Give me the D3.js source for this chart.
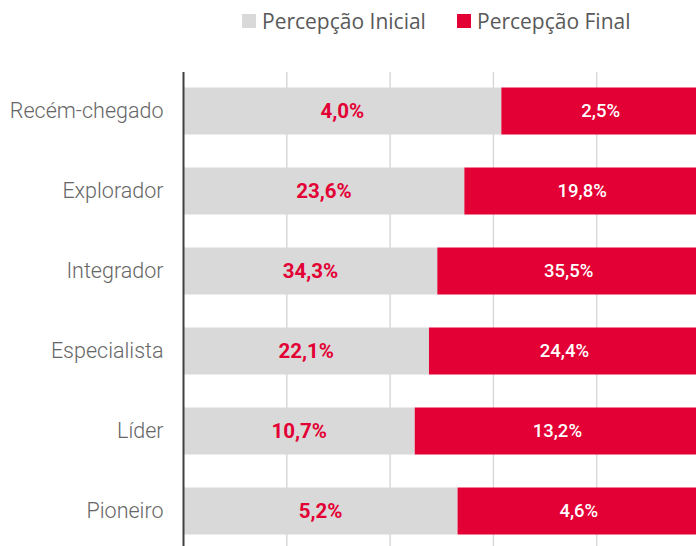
<!DOCTYPE html>
<html><head><meta charset="utf-8">
<script src="https://cdn.jsdelivr.net/npm/d3@7"></script>
<style>body{margin:0;background:#fff;overflow:hidden}svg{display:block}</style>
</head><body>
<script>
const categories = ["Recém-chegado","Explorador","Integrador","Especialista","Líder","Pioneiro"];
const inicial = [4.0, 23.6, 34.3, 22.1, 10.7, 5.2];
const final = [2.5, 19.8, 35.5, 24.4, 13.2, 4.6];
const seriesNames = ["Percepção Inicial","Percepção Final"];
const ticks = [0, 0.2, 0.4, 0.6, 0.8, 1.0];
const colors = ["#d9d9d9","#e30034"];

const W = 696, H = 546;
const svg = d3.select("body").append("svg").attr("width", W).attr("height", H);
const x = d3.scaleLinear().domain([0,1]).range([183.5, 700]);
const y = d3.scaleBand().domain(categories).range([71, 551]).paddingInner(0.4125).paddingOuter(0.20625);
const fmt = v => v.toFixed(1).replace(".", ",") + "%";

const rows = categories.map((c,i)=>{const t = inicial[i]+final[i]; return {c, a: inicial[i], b: final[i], fa: inicial[i]/t};});

// gridlines
svg.append("g").selectAll("line").data(ticks.slice(1)).join("line")
  .attr("x1", d=>x(d)).attr("x2", d=>x(d)).attr("y1", 72).attr("y2", H)
  .attr("stroke", "#d9d9d9").attr("stroke-width", 1.5);

const g = svg.append("g");
g.selectAll("rect.a").data(rows).join("rect").attr("class","a")
  .attr("x", x(0)).attr("y", d=>y(d.c)).attr("width", d=>x(d.fa)-x(0)).attr("height", y.bandwidth()).attr("fill", colors[0]);
g.selectAll("rect.b").data(rows).join("rect").attr("class","b")
  .attr("x", d=>x(d.fa)).attr("y", d=>y(d.c)).attr("width", d=>x(1)-x(d.fa)).attr("height", y.bandwidth()).attr("fill", colors[1]);

g.selectAll("text.a").data(rows).join("text").attr("class","a")
  .attr("x", d=>(x(0)+x(d.fa))/2).attr("y", d=>y(d.c)+y.bandwidth()/2).attr("dy","0.35em")
  .attr("text-anchor","middle").attr("font-family","Roboto").attr("font-weight","bold").attr("font-size","20.5px")
  .attr("fill", colors[1]).text(d=>fmt(d.a));
g.selectAll("text.b").data(rows).join("text").attr("class","b")
  .attr("x", d=>(x(d.fa)+x(1))/2).attr("y", d=>y(d.c)+y.bandwidth()/2).attr("dy","0.35em")
  .attr("text-anchor","middle").attr("font-family","Roboto").attr("font-weight","500").attr("font-size","18.5px")
  .attr("fill", "#fff").text(d=>fmt(d.b));

// axis
const ax = svg.append("g").attr("transform", `translate(${x(0)},0)`)
  .call(d3.axisLeft(y).tickSize(0).tickPadding(20));
ax.select(".domain").attr("d", `M0,72V${H}`).attr("stroke","#404040").attr("stroke-width",2);
ax.selectAll("text").attr("font-family","Roboto").attr("font-weight","300").attr("font-size","21.5px").attr("fill","#666666");

// legend
const leg = svg.append("g");
const legX = [242, 457];
seriesNames.forEach((n,i)=>{
  leg.append("rect").attr("x", legX[i]).attr("y", 14).attr("width", 14).attr("height", 14).attr("fill", colors[i]);
  leg.append("text").attr("x", legX[i]+20).attr("y", 21.5).attr("dy","0.35em")
    .attr("font-family","Open Sans").attr("font-size","21px").attr("fill","#595959").text(n);
});
</script>
</body></html>
